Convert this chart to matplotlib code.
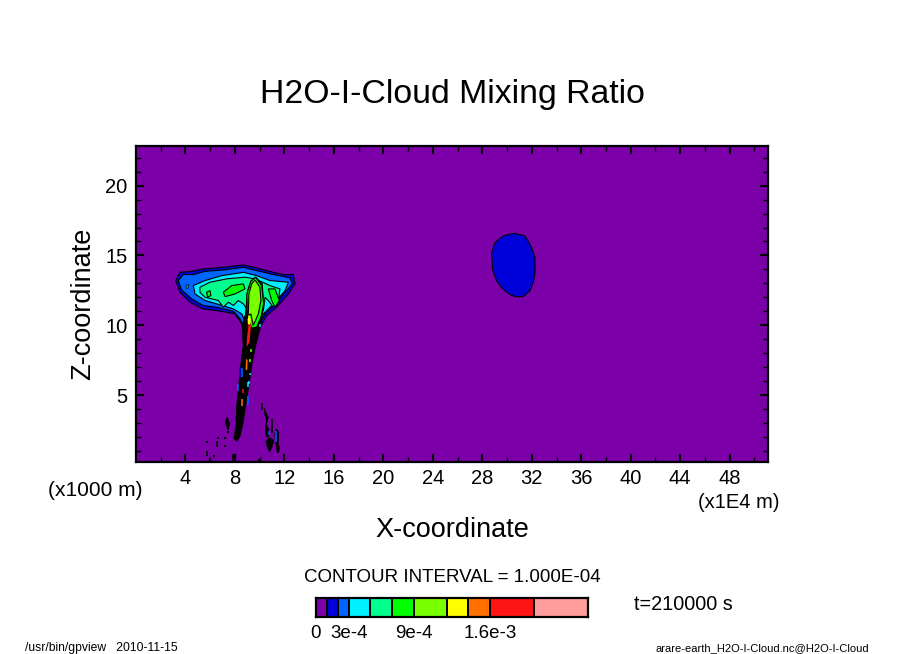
import matplotlib
matplotlib.use("Agg")
import matplotlib.pyplot as plt
import numpy as np

plt.rcParams['font.family'] = ['Liberation Sans', 'DejaVu Sans']

W, H = 904, 654

# contour levels and colours of the tone bar
levels = [0, 1e-4, 2e-4, 3e-4, 5e-4, 7e-4, 9e-4, 1.2e-3, 1.4e-3, 1.6e-3, 2.0e-3, 2.5e-3]
colors = ['#7b00a8', '#0000d8', '#0064ff', '#00f0ff', '#00ff8c', '#00ff00',
          '#78ff00', '#ffff00', '#ff7000', '#ff1414', '#ff9c9c']
bar_ticks = [0, 3e-4, 9e-4, 1.6e-3]
bar_labels = ['0', '3e-4', '9e-4', '1.6e-3']

# small blob at upper right (1e-4 contour)
blob_x = [28.75, 29.02, 29.48, 29.7, 30.1, 30.64, 31.45, 31.8, 31.99, 32.12, 32.26, 32.26, 32.12,
          31.85, 31.31, 30.64, 30.24, 29.83, 29.48, 29.16, 28.83]
blob_z = [15.2, 15.91, 16.25, 16.39, 16.5, 16.58, 16.39, 15.9, 15.55, 15.2, 14.84, 13.77, 13.05,
          12.46, 12.05, 12.05, 12.2, 12.46, 12.8, 13.17, 14.0]

# anvil contours
anvil1_x = [3.21, 3.56, 4.5, 5.44, 7.06, 8.68, 9.76, 11.1, 11.91, 12.72, 12.86, 12.32, 11.37,
            10.57, 9.89, 8.68, 8.54, 8.0, 6.52, 5.44, 4.37, 3.56]
anvil1_z = [13.2, 13.79, 13.86, 14.03, 14.15, 14.32, 14.1, 13.79, 13.63, 13.63, 12.96, 12.24, 11.29,
            10.7, 9.63, 9.63, 10.1, 10.82, 11.05, 11.17, 11.65, 12.36]
anvil2_x = [3.42, 3.83, 4.64, 5.58, 7.06, 8.68, 9.76, 11.1, 12.45, 12.64, 12.05, 11.24, 10.43,
            9.76, 8.81, 8.41, 7.87, 6.52, 5.44, 4.5, 3.69]
anvil2_z = [13.2, 13.63, 13.63, 13.86, 13.96, 14.15, 13.91, 13.63, 13.39, 12.96, 12.36, 11.53, 10.82,
            9.74, 9.74, 10.46, 11.0, 11.29, 11.41, 11.89, 12.53]
anvil3_x = [4.64, 5.58, 6.93, 8.68, 9.76, 10.83, 12.32, 12.05, 11.24, 10.3, 9.76, 9.08, 8.54,
            7.87, 6.52, 5.58, 4.77]
anvil3_z = [12.84, 13.2, 13.55, 13.79, 13.55, 13.2, 13.08, 12.48, 11.65, 10.82, 9.98, 9.86, 10.82,
            11.17, 11.53, 11.77, 12.24]
anvil4_x = [5.17, 5.98, 7.33, 8.81, 9.62, 10.83, 11.64, 11.51, 11.1, 10.7, 10.43, 10.3, 9.22,
            8.68, 8.27, 7.87, 7.47, 7.06, 6.66, 5.58, 5.17]
anvil4_z = [12.72, 13.08, 13.32, 13.44, 13.32, 12.84, 12.6, 11.77, 11.29, 11.77, 12.0, 11.05, 10.82,
            11.53, 11.77, 11.41, 11.65, 11.29, 11.77, 12.0, 12.36]
green_a_x = [5.71, 5.98, 6.06, 5.79]
green_a_z = [12.36, 12.48, 12.13, 12.0]
green_b_x = [7.06, 7.74, 8.68, 8.81, 8.0, 7.2]
green_b_z = [12.36, 12.84, 12.96, 12.6, 12.24, 12.05]
green_c_x = [10.7, 11.24, 11.59, 11.24, 10.97]
green_c_z = [12.6, 12.6, 11.77, 11.29, 11.77]
spot_x = [4.05, 4.25, 4.2, 4.05]
spot_z = [12.85, 12.9, 12.65, 12.65]

# main updraft, contours are so dense there that it comes out black
plume_x = [9.29, 9.02, 8.86, 8.59, 8.67, 8.48, 8.32, 8.14, 8.09, 7.93, 8.14, 8.41, 8.68, 8.82,
           9.13, 9.35, 9.67, 10.1, 10.32, 10.2, 9.67]
plume_z = [13.15, 12.48, 10.81, 9.99, 8.56, 7.13, 5.7, 4.1, 2.8, 1.9, 1.7, 2.08, 3.15, 4.1,
           5.7, 7.13, 8.56, 9.99, 11.53, 12.96, 13.46]
core_green_x = [9.0, 8.97, 9.29, 9.67, 10.16, 10.32, 10.1, 9.75, 9.35]
core_green_z = [10.7, 12.24, 13.15, 13.43, 12.84, 11.53, 10.58, 9.86, 9.8]
core_lime_x = [9.62, 10.02, 10.1, 9.89, 9.48, 9.29, 9.08, 9.13, 9.35]
core_lime_z = [13.24, 12.72, 11.77, 10.81, 9.98, 10.81, 10.7, 12.24, 12.96]
core_yellow_x = [9.02, 9.12, 9.29, 9.25, 9.05]
core_yellow_z = [10.4, 10.75, 10.45, 10.05, 10.05]
core_red_x = [9.1, 9.3, 9.18, 8.94, 8.97]
core_red_z = [10.05, 10.05, 8.8, 8.44, 9.04]
core_orange_x = [8.9, 9.02, 9.0, 8.86]
core_orange_z = [7.6, 7.5, 6.8, 6.8]

# coloured specks inside the updraft: x, bottom, top
speck_x = [8.43, 8.55, 8.28, 8.63, 8.55, 9.09, 9.09, 9.29, 9.18, 9.25, 9.1, 10.0, 11.32, 10.75]
speck_bot = [6.3, 6.3, 5.3, 5.15, 4.2, 5.6, 4.3, 8.1, 7.4, 6.45, 5.8, 9.85, 1.6, 2.1]
speck_top = [7.0, 6.9, 5.8, 5.4, 4.7, 5.9, 4.9, 8.3, 7.6, 6.6, 6.0, 10.1, 2.4, 2.4]
speck_col = ['#0000d8', '#0064ff', '#0064ff', '#ff1414', '#ff7000', '#00f0ff', '#0064ff', '#78ff00',
             '#78ff00', '#00f0ff', '#00f0ff', '#00f0ff', '#0064ff', '#0064ff']

# scattered cloud below the anvil
scrap_a_x = [7.23, 7.37, 7.55, 7.45, 7.35]
scrap_a_z = [3.0, 3.4, 2.95, 2.5, 2.75]
scrap_b_x = [10.35, 10.55, 10.7, 10.55, 10.75, 10.75, 10.5, 10.45, 10.55, 10.4]
scrap_b_z = [4.05, 3.7, 3.4, 2.9, 2.5, 2.0, 2.0, 2.7, 3.2, 3.6]
scrap_c_x = [11.2, 11.35, 11.55, 11.5, 11.3]
scrap_c_z = [2.2, 2.6, 2.3, 1.45, 1.45]
scrap_d_x = [10.5, 10.75, 11.15, 11.0, 10.8, 10.6]
scrap_d_z = [1.65, 1.95, 1.8, 1.25, 0.9, 1.3]
scrap_e_x = [11.35, 11.6, 11.55, 11.4]
scrap_e_z = [1.45, 1.35, 0.85, 0.9]
line_x = [10.17, 10.97, 7.87, 11.97, 9.98, 5.77, 5.99, 6.53]
line_bot = [3.9, 2.25, 0.2, 0.2, 0.2, 0.6, 0.2, 1.3]
line_top = [4.4, 3.3, 0.8, 0.8, 0.45, 1.0, 0.5, 1.7]
dot_x = [6.66, 7.2, 5.77, 6.31, 7.2, 7.45]
dot_z = [1.9, 1.9, 1.65, 0.63, 1.37, 2.35]

xticks = np.arange(4, 49, 4)
yticks = [5, 10, 15, 20]

fig = plt.figure(figsize=(W / 100, H / 100), dpi=100)
ax = fig.add_axes([136 / W, 1 - 462 / H, 632 / W, 316 / H])
ax.set_facecolor(colors[0])
ax.set_xlim(0, 51.1)
ax.set_ylim(0.2, 22.84)


def patch(x, z, c, lw=0.8):
    ax.fill(x, z, facecolor=c, edgecolor='k', linewidth=lw, zorder=2)


patch(blob_x, blob_z, colors[1])
patch(anvil1_x, anvil1_z, colors[1])
patch(anvil2_x, anvil2_z, colors[2])
patch(spot_x, spot_z, colors[3], lw=0.6)
patch(anvil3_x, anvil3_z, colors[3])
patch(anvil4_x, anvil4_z, colors[4])
patch(green_a_x, green_a_z, colors[5])
patch(green_b_x, green_b_z, colors[5])
patch(green_c_x, green_c_z, colors[5])
patch(plume_x, plume_z, 'k')
patch(core_green_x, core_green_z, colors[5])
patch(core_lime_x, core_lime_z, colors[6])
patch(core_yellow_x, core_yellow_z, colors[7], lw=0)
patch(core_red_x, core_red_z, colors[9], lw=0)
patch(core_orange_x, core_orange_z, colors[8], lw=0)
patch(scrap_a_x, scrap_a_z, 'k')
patch(scrap_b_x, scrap_b_z, 'k', lw=0.4)
patch(scrap_c_x, scrap_c_z, 'k', lw=0.4)
patch(scrap_d_x, scrap_d_z, 'k', lw=0.4)
patch(scrap_e_x, scrap_e_z, 'k', lw=0.4)
ax.vlines(line_x, line_bot, line_top, color='k', lw=1.2, zorder=3)
ax.plot(dot_x, dot_z, 's', color='k', ms=1.6, mew=0, zorder=3)
ax.vlines(speck_x, speck_bot, speck_top, colors=speck_col, lw=1.1, zorder=4)

ax.set_xticks(xticks)
ax.set_xticks(np.arange(2, 51, 4), minor=True)
ax.set_yticks(yticks)
ax.set_yticks([y for y in range(1, 23) if y % 5], minor=True)
ax.tick_params(which='major', direction='in', top=True, right=True, length=6, width=1.5,
               labelsize=14.5, pad=6)
ax.tick_params(which='minor', direction='in', top=True, right=True, length=3.5, width=1)
ax.tick_params(axis='x', which='major', pad=5)
for s in ax.spines.values():
    s.set_linewidth(1.6)
    s.set_zorder(5)

# tone bar
cax = fig.add_axes([316 / W, 1 - 617 / H, 272 / W, 19 / H])
cax.pcolormesh(levels, [0, 1], np.arange(len(colors)).reshape(1, -1), cmap=matplotlib.colors.ListedColormap(colors),
               edgecolors='k', linewidth=1.2)
cax.set_xlim(levels[0], levels[-1])
cax.set_yticks([])
cax.set_xticks(bar_ticks)
cax.set_xticklabels(bar_labels, fontsize=13.5)
cax.tick_params(length=0, pad=6)
for s in cax.spines.values():
    s.set_linewidth(1.6)


def label(px, py, s, size, ha='center', **kw):
    fig.text(px / W, 1 - py / H, s, fontsize=size, ha=ha, va='center', **kw)


label(452, 94, 'H2O-I-Cloud Mixing Ratio', 24.3)
label(452, 530, 'X-coordinate', 19.5)
label(83, 304, 'Z-coordinate', 19.5, rotation=90)
label(95, 491, '(x1000 m)', 15)
label(739, 502, '(x1E4 m)', 14.5)
label(452, 577, 'CONTOUR INTERVAL = 1.000E-04', 13.5)
label(683, 604, 't=210000 s', 14.3)
label(25, 648, '/usr/bin/gpview   2010-11-15', 8.7, ha='left')
label(869, 648, 'arare-earth_H2O-I-Cloud.nc@H2O-I-Cloud', 8, ha='right')

fig.savefig('out.png', dpi=100)
